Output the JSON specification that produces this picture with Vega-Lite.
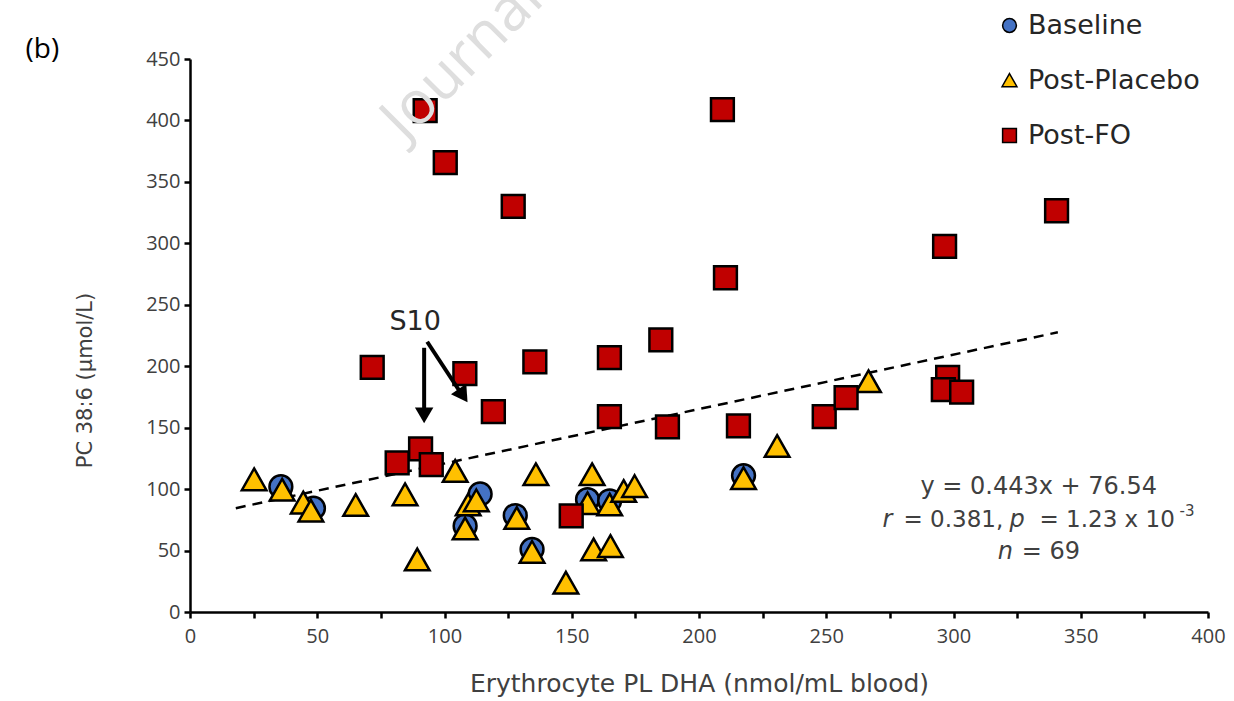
{
  "$schema": "https://vega.github.io/schema/vega-lite/v6.json",
  "width": 1018,
  "height": 553,
  "autosize": {"type": "none"},
  "padding": {"left": 190, "top": 59, "right": 26, "bottom": 89},
  "background": "white",
  "config": {
    "view": {"stroke": null},
    "axis": {"grid": false, "domainColor": "#000000", "domainWidth": 2.5, "tickColor": "#000000", "tickWidth": 2.5, "tickSize": 6, "labelFont": "Open Sans", "labelFontSize": 20, "labelColor": "#404040", "titleFont": "DejaVu Sans", "titleFontWeight": "normal", "titleColor": "#404040"},
    "legend": {"labelFont": "DejaVu Sans", "labelFontSize": 27, "labelColor": "#262626", "labelLimit": 400}
  },
  "datasets": {
    "pts": [
      {"group": "Baseline", "dha": 35.7, "pc": 102},
      {"group": "Baseline", "dha": 48.5, "pc": 84.5},
      {"group": "Baseline", "dha": 114, "pc": 96},
      {"group": "Baseline", "dha": 108.1, "pc": 70},
      {"group": "Baseline", "dha": 127.8, "pc": 78.5},
      {"group": "Baseline", "dha": 134.4, "pc": 51},
      {"group": "Baseline", "dha": 156.2, "pc": 91.5},
      {"group": "Baseline", "dha": 164.9, "pc": 90.5},
      {"group": "Baseline", "dha": 217.5, "pc": 111},
      {"group": "Post-Placebo", "dha": 25.2, "pc": 107.5},
      {"group": "Post-Placebo", "dha": 36.2, "pc": 99},
      {"group": "Post-Placebo", "dha": 44.5, "pc": 88.6},
      {"group": "Post-Placebo", "dha": 47.5, "pc": 82},
      {"group": "Post-Placebo", "dha": 65.1, "pc": 86.6},
      {"group": "Post-Placebo", "dha": 84.5, "pc": 95.3},
      {"group": "Post-Placebo", "dha": 89.3, "pc": 42.3},
      {"group": "Post-Placebo", "dha": 104.2, "pc": 114.3},
      {"group": "Post-Placebo", "dha": 109.3, "pc": 87},
      {"group": "Post-Placebo", "dha": 112.5, "pc": 90.4},
      {"group": "Post-Placebo", "dha": 108.1, "pc": 67.5},
      {"group": "Post-Placebo", "dha": 128.4, "pc": 76},
      {"group": "Post-Placebo", "dha": 134.4, "pc": 48.5},
      {"group": "Post-Placebo", "dha": 135.9, "pc": 111.6},
      {"group": "Post-Placebo", "dha": 147.7, "pc": 23.4},
      {"group": "Post-Placebo", "dha": 156.2, "pc": 88},
      {"group": "Post-Placebo", "dha": 158, "pc": 111.6},
      {"group": "Post-Placebo", "dha": 158.6, "pc": 50.5},
      {"group": "Post-Placebo", "dha": 164.9, "pc": 87},
      {"group": "Post-Placebo", "dha": 165.2, "pc": 53.2},
      {"group": "Post-Placebo", "dha": 170.4, "pc": 98},
      {"group": "Post-Placebo", "dha": 174.7, "pc": 102},
      {"group": "Post-Placebo", "dha": 217.5, "pc": 108.5},
      {"group": "Post-Placebo", "dha": 230.7, "pc": 134.6},
      {"group": "Post-Placebo", "dha": 266.6, "pc": 187.3},
      {"group": "Post-FO", "dha": 92.4, "pc": 408},
      {"group": "Post-FO", "dha": 100.3, "pc": 365.6},
      {"group": "Post-FO", "dha": 127, "pc": 330},
      {"group": "Post-FO", "dha": 209.2, "pc": 408.8},
      {"group": "Post-FO", "dha": 210.4, "pc": 272},
      {"group": "Post-FO", "dha": 340.5, "pc": 326.5},
      {"group": "Post-FO", "dha": 296.5, "pc": 297.5},
      {"group": "Post-FO", "dha": 71.6, "pc": 199},
      {"group": "Post-FO", "dha": 108, "pc": 194},
      {"group": "Post-FO", "dha": 135.5, "pc": 203.5},
      {"group": "Post-FO", "dha": 164.8, "pc": 207},
      {"group": "Post-FO", "dha": 185, "pc": 221.5},
      {"group": "Post-FO", "dha": 119.2, "pc": 163},
      {"group": "Post-FO", "dha": 164.8, "pc": 159},
      {"group": "Post-FO", "dha": 187.6, "pc": 150.7},
      {"group": "Post-FO", "dha": 215.5, "pc": 151.5},
      {"group": "Post-FO", "dha": 249.2, "pc": 159},
      {"group": "Post-FO", "dha": 257.8, "pc": 174.5},
      {"group": "Post-FO", "dha": 297.7, "pc": 191},
      {"group": "Post-FO", "dha": 296, "pc": 181},
      {"group": "Post-FO", "dha": 303.2, "pc": 179},
      {"group": "Post-FO", "dha": 81.4, "pc": 121.3},
      {"group": "Post-FO", "dha": 90.6, "pc": 132.7},
      {"group": "Post-FO", "dha": 94.8, "pc": 120},
      {"group": "Post-FO", "dha": 149.8, "pc": 78.2}
    ],
    "fit": [
      {"dha": 18, "pc": 84.5},
      {"dha": 341, "pc": 227.6}
    ],
    "arrows": [
      {"x1": 92.0, "y1": 215, "x2": 92.0, "y2": 161, "hx": 92.0, "hy": 160, "ang": 0},
      {"x1": 93.2, "y1": 219.9, "x2": 106.8, "y2": 177, "hx": 107.3, "hy": 176.1, "ang": 326}
    ],
    "one": [{"k": 1}]
  },
  "layer": [
    {
      "data": {"name": "fit"},
      "mark": {"type": "line", "color": "#000000", "strokeWidth": 2.5, "strokeDash": [10, 7]},
      "encoding": {
        "x": {"field": "dha", "type": "quantitative", "scale": {"domain": [0, 400], "nice": false},
          "axis": {"values": [0,25,50,75,100,125,150,175,200,225,250,275,300,325,350,375,400], "labelExpr": "datum.value % 50 === 0 ? datum.label : ''", "labelPadding": 8, "title": "Erythrocyte PL DHA (nmol/mL blood)", "titleFontSize": 25, "titleBaseline": "middle", "titleY": 71, "labelFlush": false}},
        "y": {"field": "pc", "type": "quantitative", "scale": {"domain": [0, 450], "nice": false},
          "axis": {"values": [0,50,100,150,200,250,300,350,400,450], "labelPadding": 4, "title": "PC 38:6 (µmol/L)", "titleFontSize": 21, "titleAngle": 270, "titleBaseline": "middle", "titleAlign": "center", "titleX": -105, "titleY": 321}}
      }
    },
    {
      "data": {"name": "pts"},
      "mark": {"type": "point", "filled": true, "stroke": "#000000", "strokeWidth": 2.5, "opacity": 1, "size": 520},
      "encoding": {
        "x": {"field": "dha", "type": "quantitative"},
        "y": {"field": "pc", "type": "quantitative"},
        "fill": {"field": "group", "type": "nominal", "scale": {"domain": ["Baseline", "Post-Placebo", "Post-FO"], "range": ["#4472C4", "#FFC000", "#C00000"]},
          "legend": {"title": null, "orient": "none", "legendX": 806, "legendY": -47, "labelOffset": 5, "symbolSize": 190, "rowPadding": 27,
            "encode": {"symbols": {"update": {"stroke": {"value": "#000000"}, "strokeWidth": {"value": 3}, "opacity": {"value": 1}}}}}},
        "shape": {"field": "group", "type": "nominal", "scale": {"domain": ["Baseline", "Post-Placebo", "Post-FO"], "range": ["circle", "M0,-1.0L1.08,0.9L-1.08,0.9Z", "square"]},
          "legend": {"title": null, "orient": "none", "legendX": 806, "legendY": -47, "labelOffset": 5, "symbolSize": 190, "rowPadding": 27,
            "encode": {"symbols": {"update": {"stroke": {"value": "#000000"}, "strokeWidth": {"value": 3}, "opacity": {"value": 1}}}}}}
      }
    },
    {
      "data": {"name": "arrows"},
      "mark": {"type": "rule", "color": "#000000", "strokeWidth": 4},
      "encoding": {
        "x": {"field": "x1", "type": "quantitative"},
        "y": {"field": "y1", "type": "quantitative"},
        "x2": {"field": "x2"},
        "y2": {"field": "y2"}
      }
    },
    {
      "data": {"name": "arrows"},
      "mark": {"type": "point", "shape": "triangle-down", "filled": true, "color": "#000000", "size": 340, "opacity": 1},
      "encoding": {
        "x": {"field": "hx", "type": "quantitative"},
        "y": {"field": "hy", "type": "quantitative"},
        "angle": {"field": "ang", "type": "quantitative", "scale": null}
      }
    },
    {
      "data": {"name": "one"},
      "mark": {"type": "text", "text": "Journal Pre-proof", "font": "Open Sans", "fontSize": 60, "color": "#dedede", "align": "left", "baseline": "alphabetic", "angle": 315},
      "encoding": {"x": {"datum": 84.5}, "y": {"datum": 382}}
    },
    {
      "data": {"name": "one"},
      "mark": {"type": "text", "text": "(b)", "font": "Open Sans", "fontSize": 28, "color": "#000000", "align": "center", "baseline": "middle"},
      "encoding": {"x": {"datum": -58}, "y": {"datum": 457.5}}
    },
    {
      "data": {"name": "one"},
      "mark": {"type": "text", "text": "S10", "font": "DejaVu Sans", "fontSize": 27, "color": "#262626", "align": "center", "baseline": "middle"},
      "encoding": {"x": {"datum": 88.5}, "y": {"datum": 236}}
    },
    {
      "data": {"name": "one"},
      "mark": {"type": "text", "text": "y = 0.443x + 76.54", "font": "DejaVu Sans", "fontSize": 24, "color": "#404040", "align": "center", "baseline": "middle"},
      "encoding": {"x": {"datum": 333.5}, "y": {"datum": 101.8}}
    },
    {
      "data": {"name": "one"},
      "mark": {"type": "text", "text": "r", "font": "DejaVu Sans", "fontStyle": "italic", "fontSize": 24, "color": "#404040", "align": "left", "baseline": "middle"},
      "encoding": {"x": {"datum": 272.1}, "y": {"datum": 75}}
    },
    {
      "data": {"name": "one"},
      "mark": {"type": "text", "text": "= 0.381,", "font": "DejaVu Sans", "fontSize": 23, "color": "#404040", "align": "left", "baseline": "middle", "dx": 21},
      "encoding": {"x": {"datum": 272.1}, "y": {"datum": 75}}
    },
    {
      "data": {"name": "one"},
      "mark": {"type": "text", "text": "p", "font": "DejaVu Sans", "fontStyle": "italic", "fontSize": 24, "color": "#404040", "align": "left", "baseline": "middle", "dx": 127},
      "encoding": {"x": {"datum": 272.1}, "y": {"datum": 75}}
    },
    {
      "data": {"name": "one"},
      "mark": {"type": "text", "text": "= 1.23 x 10", "font": "DejaVu Sans", "fontSize": 23, "color": "#404040", "align": "left", "baseline": "middle", "dx": 157},
      "encoding": {"x": {"datum": 272.1}, "y": {"datum": 75}}
    },
    {
      "data": {"name": "one"},
      "mark": {"type": "text", "text": "-3", "font": "DejaVu Sans", "fontSize": 15, "color": "#404040", "align": "left", "baseline": "middle", "dx": 297, "dy": -9},
      "encoding": {"x": {"datum": 272.1}, "y": {"datum": 75}}
    },
    {
      "data": {"name": "one"},
      "mark": {"type": "text", "text": "n", "font": "DejaVu Sans", "fontStyle": "italic", "fontSize": 24, "color": "#404040", "align": "left", "baseline": "middle"},
      "encoding": {"x": {"datum": 317.4}, "y": {"datum": 49}}
    },
    {
      "data": {"name": "one"},
      "mark": {"type": "text", "text": "= 69", "font": "DejaVu Sans", "fontSize": 24, "color": "#404040", "align": "left", "baseline": "middle", "dx": 24},
      "encoding": {"x": {"datum": 317.4}, "y": {"datum": 49}}
    }
  ]
}
